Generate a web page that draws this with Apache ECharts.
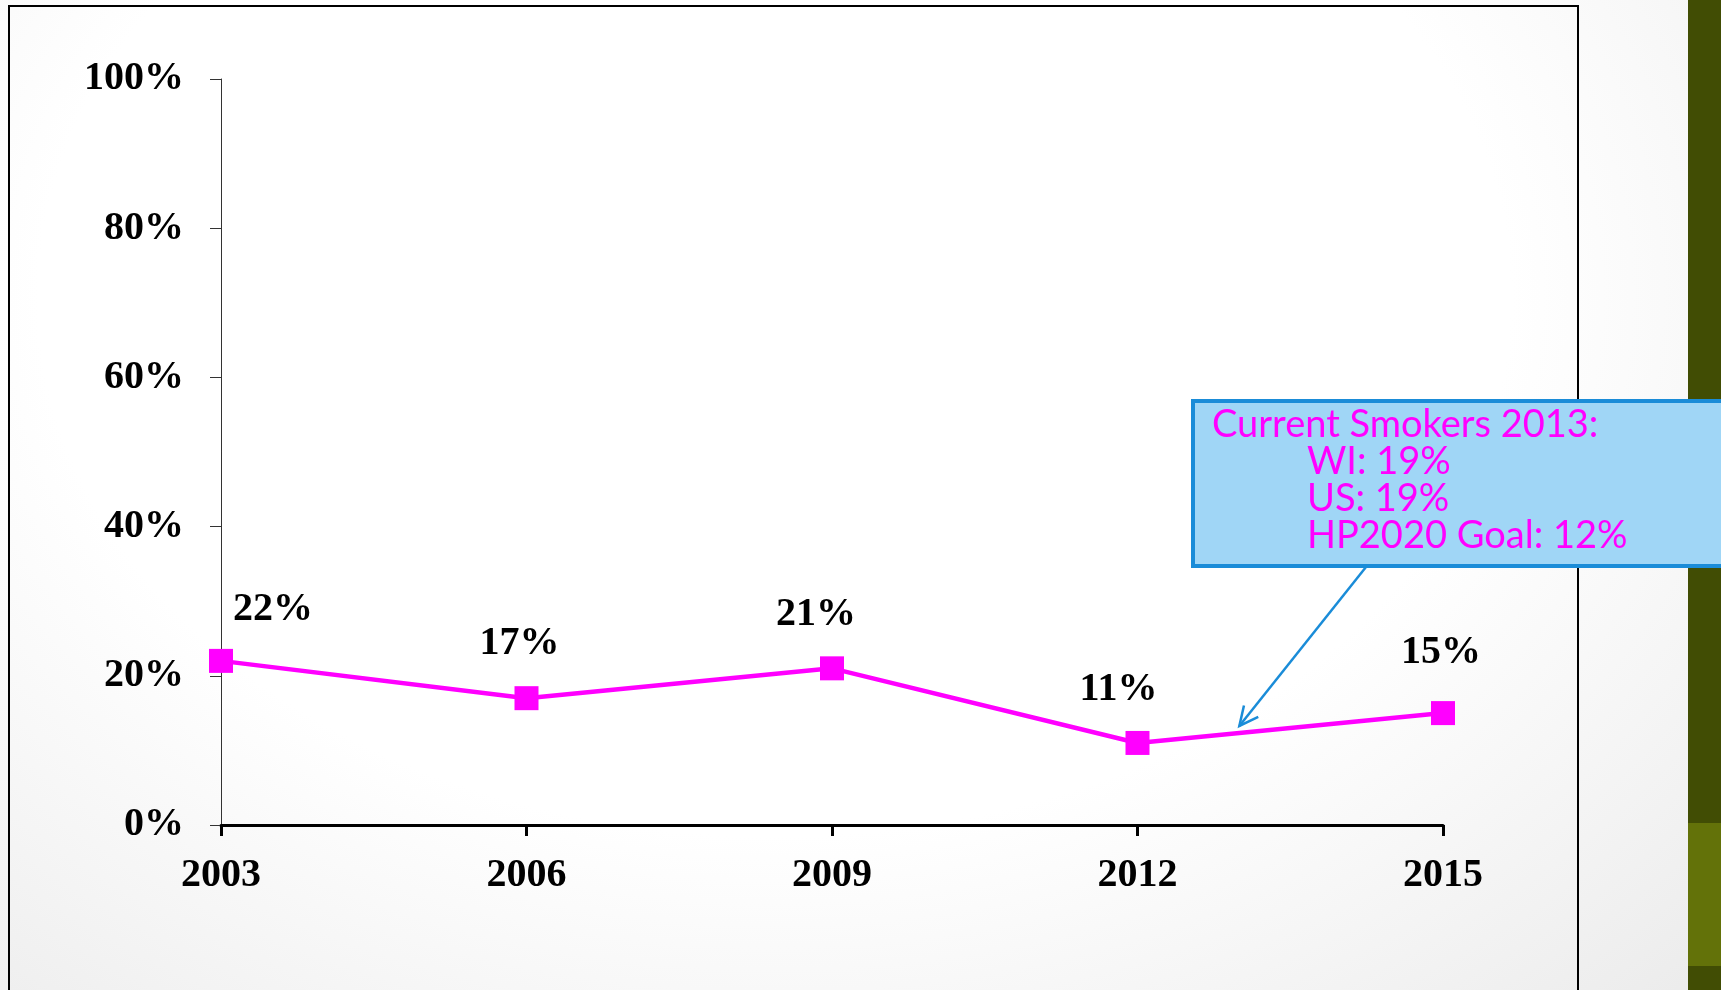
<!DOCTYPE html>
<html>
<head>
<meta charset="utf-8">
<script src="https://cdn.jsdelivr.net/npm/echarts@6/dist/echarts.min.js"></script>
<style>
html,body{margin:0;padding:0;width:1721px;height:990px;overflow:hidden;
background:radial-gradient(ellipse at 45% 30%, #ffffff 55%, #ebebeb 100%);}
#frame{position:absolute;left:8px;top:5px;width:1571px;height:1000px;border:2px solid #000;box-sizing:border-box;}
#bar1{position:absolute;left:1688px;top:0;width:33px;height:990px;background:#414d04;}
#bar2{position:absolute;left:1688px;top:823px;width:33px;height:143px;background:#637209;}
#chart{position:absolute;left:0;top:0;width:1721px;height:990px;}
</style>
</head>
<body>
<div id="frame"></div>
<div id="bar1"></div>
<div id="bar2"></div>
<div id="chart"></div>
<script>
const years = ['2003', '2006', '2009', '2012', '2015'];
const smokers = [22, 17, 21, 11, 15];
const yTicks = [0, 20, 40, 60, 80, 100];
const noteTitle = 'Current Smokers 2013:';
const noteLines = ['WI: 19%', 'US: 19%', 'HP2020 Goal: 12%'];
const notePointsAt = 2013;

const labelOffsets = [[52, -14], [-7, -18], [-16, -17], [-19, -16], [-2, -23]];

const chart = echarts.init(document.getElementById('chart'), null, {renderer: 'canvas'});
const serif = '"Liberation Serif", "Times New Roman", serif';

chart.setOption({
  animation: false,
  grid: {left: 221, right: 278, top: 79, bottom: 165, containLabel: false},
  xAxis: {
    type: 'category', data: years, boundaryGap: false,
    axisLine: {lineStyle: {color: '#000', width: 3}},
    axisTick: {alignWithLabel: true, length: 11, lineStyle: {color: '#000', width: 3}},
    axisLabel: {color: '#000', fontFamily: serif, fontWeight: 'bold', fontSize: 40, margin: 31}
  },
  yAxis: {
    type: 'value', min: 0, max: 100, interval: 20,
    axisLine: {show: true, lineStyle: {color: '#333', width: 1}},
    axisTick: {show: true, length: 11, lineStyle: {color: '#333', width: 1}},
    splitLine: {show: false},
    axisLabel: {color: '#000', fontFamily: serif, fontWeight: 'bold', fontSize: 40, margin: 37,
      formatter: v => v + '%'}
  },
  series: [{
    type: 'line',
    data: smokers.map((v, i) => ({value: v, label: {offset: labelOffsets[i]}})),
    symbol: 'rect', symbolSize: 24,
    lineStyle: {color: '#ff00ff', width: 4.5},
    itemStyle: {color: '#ff00ff'},
    label: {show: true, position: 'top', color: '#000', fontFamily: serif, fontWeight: 'bold',
      fontSize: 40, formatter: p => p.value + '%'}
  }]
});

// annotation box + arrow
const i0 = years.indexOf('2012'), i1 = years.indexOf('2015');
const frac = (notePointsAt - 2012) / 3;
const p0 = chart.convertToPixel({seriesIndex: 0}, [i0, smokers[i0]]);
const p1 = chart.convertToPixel({seriesIndex: 0}, [i1, smokers[i1]]);
const tip = [p0[0] + (p1[0] - p0[0]) * frac, p0[1] + (p1[1] - p0[1]) * frac - 7];
const start = [1366, 567];
const ang = Math.atan2(tip[1] - start[1], tip[0] - start[0]);
const hl = 21, ha = 0.45;
const a1 = [tip[0] - hl * Math.cos(ang - ha), tip[1] - hl * Math.sin(ang - ha)];
const a2 = [tip[0] - hl * Math.cos(ang + ha), tip[1] - hl * Math.sin(ang + ha)];
const blue = '#1a8cd8';
const sans = 'Lato, "Open Sans", sans-serif';

chart.setOption({
  graphic: [
    {type: 'polyline', shape: {points: [start, tip]}, style: {stroke: blue, lineWidth: 2.5, fill: null}, z: 50},
    {type: 'polyline', shape: {points: [a1, tip, a2]}, style: {stroke: blue, lineWidth: 2.5, fill: null}, z: 50},
    {type: 'rect', shape: {x: 1193, y: 401, width: 530, height: 165},
      style: {fill: '#a0d6f6', stroke: blue, lineWidth: 4}, z: 60},
    {type: 'text', x: 1212, y: 406, z: 61,
      style: {text: noteTitle, fill: '#ff00ff', font: '38px ' + sans, lineHeight: 37}},
    {type: 'text', x: 1307, y: 443, z: 61,
      style: {text: noteLines.join('\n'), fill: '#ff00ff', font: '38px ' + sans, lineHeight: 37}}
  ]
});
</script>
</body>
</html>
